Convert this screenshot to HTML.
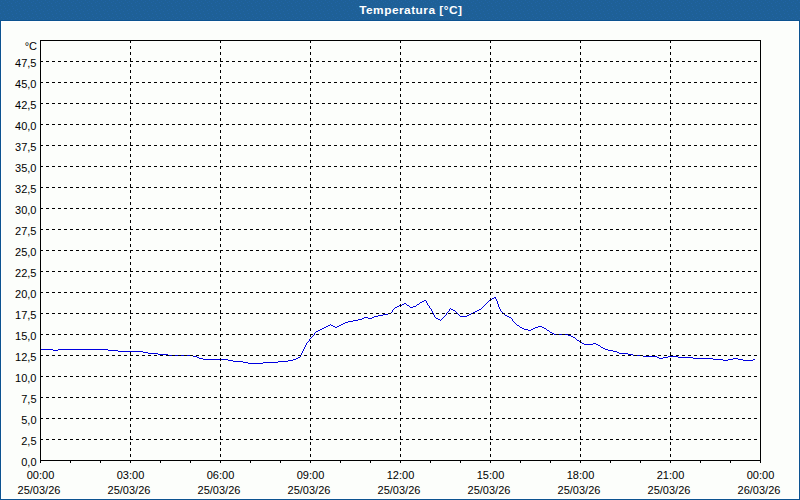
<!DOCTYPE html>
<html><head><meta charset="utf-8"><title>Temperatura</title>
<style>
html,body{margin:0;padding:0;background:#fcfefb;}
body{width:800px;height:500px;overflow:hidden;position:relative;font-family:"Liberation Sans",sans-serif;}
#panel{position:absolute;left:0;top:0;width:798px;height:498px;border:1px solid #0c5390;background:#fcfefb;}
#hdrbg{position:absolute;left:0;top:0;width:800px;height:20px;border-bottom:1px solid #0c5390;background:#1e6097;}
#hdr{position:absolute;left:0;top:0;width:800px;height:20px;z-index:2;color:#fff;font-weight:bold;font-size:11px;line-height:20px;text-align:center;}
#inner{position:absolute;left:1px;top:21px;width:796px;height:476px;border:1px solid #fff;}
svg{position:absolute;left:0;top:0;}
text{font-family:"Liberation Sans",sans-serif;font-size:11px;fill:#000;}
#ttl{display:inline-block;letter-spacing:0.44px;transform:scaleX(1.08);transform-origin:50% 50%;position:relative;left:11px;}
</style></head><body>
<div id="panel"></div>
<div id="inner"></div>
<div id="hdrbg"></div>
<div id="hdr"><span id="ttl">Temperatura [°C]</span></div>
<svg width="800" height="500" viewBox="0 0 800 500">
<defs><pattern id="dth" width="8" height="8" patternUnits="userSpaceOnUse"><rect x="1" y="1" width="1" height="1" fill="#2164a6"/><rect x="5" y="0" width="1" height="1" fill="#2164a6"/><rect x="3" y="3" width="1" height="1" fill="#2164a6"/><rect x="7" y="2" width="1" height="1" fill="#2164a6"/><rect x="0" y="5" width="1" height="1" fill="#2164a6"/><rect x="4" y="6" width="1" height="1" fill="#2164a6"/></pattern></defs><rect x="0" y="0" width="800" height="20" fill="url(#dth)" shape-rendering="crispEdges"/>

<path shape-rendering="crispEdges" fill="#0000e0" d="M494 297h2v1h-2zM492 298h2v1h-2zM495 298h1v1h-1zM490 299h2v1h-2zM496 299h1v1h-1zM424 300h2v1h-2zM489 300h1v1h-1zM496 300h1v1h-1zM422 301h2v1h-2zM426 301h1v1h-1zM488 301h1v1h-1zM497 301h1v1h-1zM420 302h2v1h-2zM426 302h1v1h-1zM487 302h1v1h-1zM497 302h1v1h-1zM404 303h2v1h-2zM419 303h1v1h-1zM427 303h1v1h-1zM486 303h1v1h-1zM497 303h1v1h-1zM402 304h2v1h-2zM406 304h1v1h-1zM417 304h2v1h-2zM427 304h1v1h-1zM485 304h1v1h-1zM498 304h1v1h-1zM399 305h3v1h-3zM407 305h2v1h-2zM416 305h1v1h-1zM428 305h1v1h-1zM484 305h1v1h-1zM498 305h1v1h-1zM397 306h2v1h-2zM409 306h1v1h-1zM413 306h3v1h-3zM429 306h1v1h-1zM483 306h1v1h-1zM498 306h1v1h-1zM395 307h2v1h-2zM410 307h3v1h-3zM429 307h1v1h-1zM482 307h1v1h-1zM499 307h1v1h-1zM394 308h1v1h-1zM430 308h1v1h-1zM450 308h1v1h-1zM481 308h1v1h-1zM499 308h1v1h-1zM393 309h1v1h-1zM431 309h1v1h-1zM449 309h1v1h-1zM451 309h2v1h-2zM479 309h2v1h-2zM500 309h1v1h-1zM392 310h1v1h-1zM431 310h1v1h-1zM449 310h1v1h-1zM453 310h2v1h-2zM477 310h2v1h-2zM500 310h1v1h-1zM392 311h1v1h-1zM432 311h1v1h-1zM448 311h1v1h-1zM455 311h1v1h-1zM475 311h2v1h-2zM501 311h1v1h-1zM391 312h1v1h-1zM432 312h1v1h-1zM447 312h1v1h-1zM456 312h1v1h-1zM473 312h2v1h-2zM502 312h1v1h-1zM388 313h3v1h-3zM433 313h1v1h-1zM446 313h1v1h-1zM457 313h1v1h-1zM471 313h2v1h-2zM503 313h1v1h-1zM383 314h5v1h-5zM433 314h1v1h-1zM446 314h1v1h-1zM458 314h1v1h-1zM469 314h2v1h-2zM504 314h1v1h-1zM378 315h5v1h-5zM434 315h1v1h-1zM445 315h1v1h-1zM459 315h1v1h-1zM467 315h2v1h-2zM505 315h2v1h-2zM374 316h4v1h-4zM434 316h1v1h-1zM444 316h1v1h-1zM460 316h7v1h-7zM507 316h2v1h-2zM364 317h4v1h-4zM372 317h2v1h-2zM435 317h1v1h-1zM443 317h1v1h-1zM509 317h2v1h-2zM362 318h2v1h-2zM368 318h4v1h-4zM436 318h2v1h-2zM442 318h1v1h-1zM511 318h1v1h-1zM358 319h4v1h-4zM438 319h2v1h-2zM441 319h1v1h-1zM512 319h1v1h-1zM353 320h5v1h-5zM440 320h1v1h-1zM512 320h1v1h-1zM348 321h5v1h-5zM513 321h1v1h-1zM345 322h3v1h-3zM514 322h1v1h-1zM343 323h2v1h-2zM515 323h1v1h-1zM330 324h1v1h-1zM341 324h2v1h-2zM516 324h1v1h-1zM328 325h2v1h-2zM331 325h2v1h-2zM339 325h2v1h-2zM517 325h2v1h-2zM326 326h2v1h-2zM333 326h2v1h-2zM337 326h2v1h-2zM519 326h1v1h-1zM538 326h4v1h-4zM324 327h2v1h-2zM335 327h2v1h-2zM520 327h2v1h-2zM535 327h3v1h-3zM542 327h2v1h-2zM322 328h2v1h-2zM522 328h2v1h-2zM533 328h2v1h-2zM544 328h2v1h-2zM320 329h2v1h-2zM524 329h4v1h-4zM531 329h2v1h-2zM546 329h1v1h-1zM318 330h2v1h-2zM528 330h3v1h-3zM547 330h2v1h-2zM316 331h2v1h-2zM549 331h1v1h-1zM315 332h1v1h-1zM550 332h2v1h-2zM314 333h1v1h-1zM552 333h2v1h-2zM314 334h1v1h-1zM554 334h14v1h-14zM313 335h1v1h-1zM568 335h3v1h-3zM312 336h1v1h-1zM571 336h2v1h-2zM311 337h1v1h-1zM573 337h2v1h-2zM310 338h1v1h-1zM575 338h1v1h-1zM309 339h1v1h-1zM576 339h1v1h-1zM309 340h1v1h-1zM577 340h2v1h-2zM308 341h1v1h-1zM579 341h1v1h-1zM307 342h1v1h-1zM580 342h2v1h-2zM306 343h1v1h-1zM582 343h2v1h-2zM593 343h3v1h-3zM306 344h1v1h-1zM584 344h9v1h-9zM596 344h2v1h-2zM305 345h1v1h-1zM598 345h2v1h-2zM305 346h1v1h-1zM600 346h1v1h-1zM304 347h1v1h-1zM601 347h2v1h-2zM304 348h1v1h-1zM603 348h2v1h-2zM40 349h13v1h-13zM58 349h50v1h-50zM303 349h1v1h-1zM605 349h3v1h-3zM53 350h5v1h-5zM108 350h10v1h-10zM303 350h1v1h-1zM608 350h5v1h-5zM118 351h25v1h-25zM302 351h1v1h-1zM613 351h4v1h-4zM143 352h5v1h-5zM302 352h1v1h-1zM617 352h2v1h-2zM148 353h10v1h-10zM301 353h1v1h-1zM619 353h9v1h-9zM158 354h10v1h-10zM301 354h1v1h-1zM628 354h5v1h-5zM168 355h25v1h-25zM300 355h1v1h-1zM633 355h10v1h-10zM193 356h4v1h-4zM300 356h1v1h-1zM643 356h14v1h-14zM668 356h10v1h-10zM197 357h2v1h-2zM298 357h2v1h-2zM657 357h2v1h-2zM663 357h5v1h-5zM678 357h15v1h-15zM199 358h4v1h-4zM296 358h2v1h-2zM659 358h4v1h-4zM693 358h20v1h-20zM733 358h5v1h-5zM203 359h25v1h-25zM293 359h3v1h-3zM713 359h10v1h-10zM728 359h5v1h-5zM738 359h5v1h-5zM753 359h2v1h-2zM228 360h5v1h-5zM288 360h5v1h-5zM723 360h5v1h-5zM743 360h10v1h-10zM233 361h10v1h-10zM278 361h10v1h-10zM243 362h5v1h-5zM263 362h15v1h-15zM248 363h15v1h-15z"/>
<g shape-rendering="crispEdges" stroke="#000" stroke-width="1" fill="none">
<line x1="40" y1="61.5" x2="760" y2="61.5" stroke-dasharray="3 3"/>
<line x1="40" y1="82.5" x2="760" y2="82.5" stroke-dasharray="3 3"/>
<line x1="40" y1="103.5" x2="760" y2="103.5" stroke-dasharray="3 3"/>
<line x1="40" y1="124.5" x2="760" y2="124.5" stroke-dasharray="3 3"/>
<line x1="40" y1="145.5" x2="760" y2="145.5" stroke-dasharray="3 3"/>
<line x1="40" y1="166.5" x2="760" y2="166.5" stroke-dasharray="3 3"/>
<line x1="40" y1="187.5" x2="760" y2="187.5" stroke-dasharray="3 3"/>
<line x1="40" y1="208.5" x2="760" y2="208.5" stroke-dasharray="3 3"/>
<line x1="40" y1="229.5" x2="760" y2="229.5" stroke-dasharray="3 3"/>
<line x1="40" y1="250.5" x2="760" y2="250.5" stroke-dasharray="3 3"/>
<line x1="40" y1="271.5" x2="760" y2="271.5" stroke-dasharray="3 3"/>
<line x1="40" y1="292.5" x2="760" y2="292.5" stroke-dasharray="3 3"/>
<line x1="40" y1="313.5" x2="760" y2="313.5" stroke-dasharray="3 3"/>
<line x1="40" y1="334.5" x2="760" y2="334.5" stroke-dasharray="3 3"/>
<line x1="40" y1="355.5" x2="760" y2="355.5" stroke-dasharray="3 3"/>
<line x1="40" y1="376.5" x2="760" y2="376.5" stroke-dasharray="3 3"/>
<line x1="40" y1="397.5" x2="760" y2="397.5" stroke-dasharray="3 3"/>
<line x1="40" y1="418.5" x2="760" y2="418.5" stroke-dasharray="3 3"/>
<line x1="40" y1="439.5" x2="760" y2="439.5" stroke-dasharray="3 3"/>
<line x1="130.5" y1="40" x2="130.5" y2="460" stroke-dasharray="3 3"/>
<line x1="220.5" y1="40" x2="220.5" y2="460" stroke-dasharray="3 3"/>
<line x1="310.5" y1="40" x2="310.5" y2="460" stroke-dasharray="3 3"/>
<line x1="400.5" y1="40" x2="400.5" y2="460" stroke-dasharray="3 3"/>
<line x1="490.5" y1="40" x2="490.5" y2="460" stroke-dasharray="3 3"/>
<line x1="580.5" y1="40" x2="580.5" y2="460" stroke-dasharray="3 3"/>
<line x1="670.5" y1="40" x2="670.5" y2="460" stroke-dasharray="3 3"/>
<rect x="40.5" y="40.5" width="720" height="420"/>
<line x1="40.5" y1="460" x2="40.5" y2="463"/>
<line x1="70.5" y1="460" x2="70.5" y2="463"/>
<line x1="100.5" y1="460" x2="100.5" y2="463"/>
<line x1="130.5" y1="460" x2="130.5" y2="463"/>
<line x1="160.5" y1="460" x2="160.5" y2="463"/>
<line x1="190.5" y1="460" x2="190.5" y2="463"/>
<line x1="220.5" y1="460" x2="220.5" y2="463"/>
<line x1="250.5" y1="460" x2="250.5" y2="463"/>
<line x1="280.5" y1="460" x2="280.5" y2="463"/>
<line x1="310.5" y1="460" x2="310.5" y2="463"/>
<line x1="340.5" y1="460" x2="340.5" y2="463"/>
<line x1="370.5" y1="460" x2="370.5" y2="463"/>
<line x1="400.5" y1="460" x2="400.5" y2="463"/>
<line x1="430.5" y1="460" x2="430.5" y2="463"/>
<line x1="460.5" y1="460" x2="460.5" y2="463"/>
<line x1="490.5" y1="460" x2="490.5" y2="463"/>
<line x1="520.5" y1="460" x2="520.5" y2="463"/>
<line x1="550.5" y1="460" x2="550.5" y2="463"/>
<line x1="580.5" y1="460" x2="580.5" y2="463"/>
<line x1="610.5" y1="460" x2="610.5" y2="463"/>
<line x1="640.5" y1="460" x2="640.5" y2="463"/>
<line x1="670.5" y1="460" x2="670.5" y2="463"/>
<line x1="700.5" y1="460" x2="700.5" y2="463"/>
<line x1="730.5" y1="460" x2="730.5" y2="463"/>
<line x1="760.5" y1="460" x2="760.5" y2="463"/>
</g>
<g text-anchor="end">
<text x="37" y="50">°C</text>
<text x="36.5" y="67">47,5</text>
<text x="36.5" y="88">45,0</text>
<text x="36.5" y="109">42,5</text>
<text x="36.5" y="130">40,0</text>
<text x="36.5" y="151">37,5</text>
<text x="36.5" y="172">35,0</text>
<text x="36.5" y="193">32,5</text>
<text x="36.5" y="214">30,0</text>
<text x="36.5" y="235">27,5</text>
<text x="36.5" y="256">25,0</text>
<text x="36.5" y="277">22,5</text>
<text x="36.5" y="298">20,0</text>
<text x="36.5" y="319">17,5</text>
<text x="36.5" y="340">15,0</text>
<text x="36.5" y="361">12,5</text>
<text x="36.5" y="382">10,0</text>
<text x="36.5" y="403">7,5</text>
<text x="36.5" y="424">5,0</text>
<text x="36.5" y="445">2,5</text>
<text x="36.5" y="466">0,0</text>
</g><g text-anchor="middle">
<text x="40.5" y="479">00:00</text>
<text x="39" y="494">25/03/26</text>
<text x="130.5" y="479">03:00</text>
<text x="129" y="494">25/03/26</text>
<text x="220.5" y="479">06:00</text>
<text x="219" y="494">25/03/26</text>
<text x="310.5" y="479">09:00</text>
<text x="309" y="494">25/03/26</text>
<text x="400.5" y="479">12:00</text>
<text x="399" y="494">25/03/26</text>
<text x="490.5" y="479">15:00</text>
<text x="489" y="494">25/03/26</text>
<text x="580.5" y="479">18:00</text>
<text x="579" y="494">25/03/26</text>
<text x="670.5" y="479">21:00</text>
<text x="669" y="494">25/03/26</text>
<text x="760.5" y="479">00:00</text>
<text x="759" y="494">26/03/26</text>
</g></svg></body></html>
